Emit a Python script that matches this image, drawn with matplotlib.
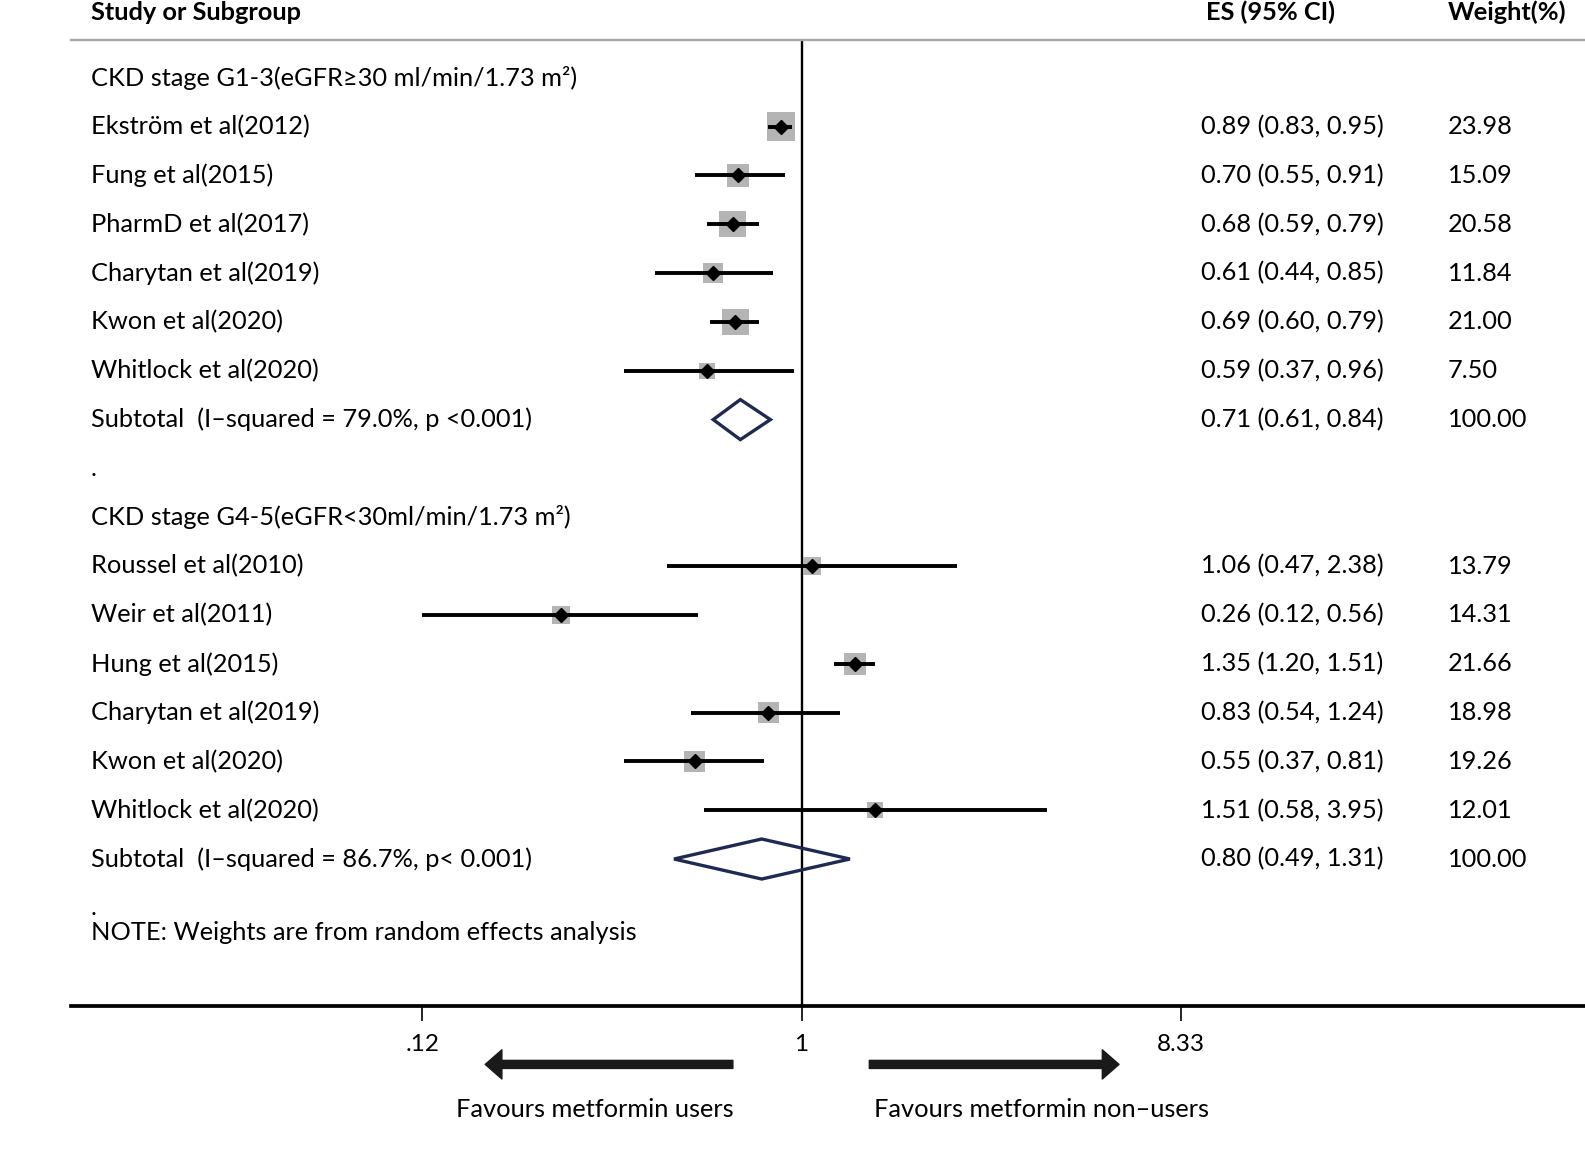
import numpy as np
import matplotlib
matplotlib.use('Agg')
import matplotlib.pyplot as plt
from matplotlib.transforms import blended_transform_factory
from matplotlib.patches import Polygon, FancyArrowPatch

plt.rcParams['font.family'] = ['Lato', 'DejaVu Sans']

# dados
grupo1 = "CKD stage G1-3(eGFR\u226530 ml/min/1.73 m\u00b2)"
estudos1 = ["Ekstr\u00f6m et al(2012)", "Fung et al(2015)", "PharmD et al(2017)",
            "Charytan et al(2019)", "Kwon et al(2020)", "Whitlock et al(2020)"]
es1 = [0.89, 0.70, 0.68, 0.61, 0.69, 0.59]
lo1 = [0.83, 0.55, 0.59, 0.44, 0.60, 0.37]
hi1 = [0.95, 0.91, 0.79, 0.85, 0.79, 0.96]
peso1 = [23.98, 15.09, 20.58, 11.84, 21.00, 7.50]
sub1_label = "Subtotal  (I\u2013squared = 79.0%, p <0.001)"
sub1 = [0.71, 0.61, 0.84]

grupo2 = "CKD stage G4-5(eGFR<30ml/min/1.73 m\u00b2)"
estudos2 = ["Roussel et al(2010)", "Weir et al(2011)", "Hung et al(2015)",
            "Charytan et al(2019)", "Kwon et al(2020)", "Whitlock et al(2020)"]
es2 = [1.06, 0.26, 1.35, 0.83, 0.55, 1.51]
lo2 = [0.47, 0.12, 1.20, 0.54, 0.37, 0.58]
hi2 = [2.38, 0.56, 1.51, 1.24, 0.81, 3.95]
peso2 = [13.79, 14.31, 21.66, 18.98, 19.26, 12.01]
sub2_label = "Subtotal  (I\u2013squared = 86.7%, p< 0.001)"
sub2 = [0.80, 0.49, 1.31]

ticks = [0.12, 1, 8.33]
tick_labels = [".12", "1", "8.33"]

W, H = 1585, 1166
S = 1585 / 1568


def px(v):
    return v * S


fig = plt.figure(figsize=(W / 100, H / 100), dpi=100)
ax = fig.add_axes([px(70) / W, 1 - px(995) / H, (px(1568) - px(70)) / W,
                   (px(995) - px(40)) / H])
ax.set_xscale('log')
px_ln = px(375) / np.log(8.33)
ax.set_xlim(np.exp((px(70) - px(793)) / px_ln), np.exp((px(1568) - px(793)) / px_ln))
row_h = px(48.3)
ax.set_ylim((px(995) - px(77)) / row_h, (px(40) - px(77)) / row_h)

tx = blended_transform_factory(fig.transFigure, ax.transData)
fs = 18.3
x_nome, x_es, x_peso = px(90) / W, px(1188) / W, px(1432) / W

# cabecalho
linha_cab = (12 - 77) / 48.3
ax.text(x_nome, linha_cab, "Study or Subgroup", transform=tx, fontsize=fs,
        fontweight='bold', va='center', clip_on=False)
ax.text(px(1193) / W, linha_cab, "ES (95% CI)", transform=tx, fontsize=fs,
        fontweight='bold', va='center', clip_on=False)
ax.text(x_peso, linha_cab, "Weight(%)", transform=tx, fontsize=fs,
        fontweight='bold', va='center', clip_on=False)


def desenha_grupo(r0, titulo, estudos, es, lo, hi, peso, sub_label, sub, k):
    ax.text(x_nome, r0, titulo, transform=tx, fontsize=fs, va='center')
    rows = np.arange(len(estudos)) + r0 + 1
    lado = k * np.sqrt(peso) * 0.72
    ax.scatter(es, rows, marker='s', s=lado ** 2, color='#b4b4b4',
               linewidths=0, zorder=2)
    ax.hlines(rows, lo, hi, color='black', lw=2.8, zorder=3)
    ax.plot(es, rows, 'D', color='black', ms=7.2, zorder=4)
    for r, n, e, l, h, p in zip(rows, estudos, es, lo, hi, peso):
        ax.text(x_nome, r, n, transform=tx, fontsize=fs, va='center')
        ax.text(x_es, r, f"{e:.2f} ({l:.2f}, {h:.2f})", transform=tx,
                fontsize=fs, va='center')
        ax.text(x_peso, r, f"{p:.2f}", transform=tx, fontsize=fs, va='center')
    rs = r0 + len(estudos) + 1
    e, l, h = sub
    losango = Polygon([(l, rs), (e, rs - 0.41), (h, rs), (e, rs + 0.41)],
                      closed=True, fill=False, edgecolor='#1e2a52', lw=2.4,
                      zorder=4)
    ax.add_patch(losango)
    ax.text(x_nome, rs, sub_label, transform=tx, fontsize=fs, va='center')
    ax.text(x_es, rs, f"{e:.2f} ({l:.2f}, {h:.2f})", transform=tx,
            fontsize=fs, va='center')
    ax.text(x_peso, rs, "100.00", transform=tx, fontsize=fs, va='center')
    ax.text(x_nome, rs + 1, ".", transform=tx, fontsize=fs, va='center')


desenha_grupo(0, grupo1, estudos1, es1, lo1, hi1, peso1, sub1_label, sub1, 5.8)
desenha_grupo(9, grupo2, estudos2, es2, lo2, hi2, peso2, sub2_label, sub2, 4.7)
ax.text(x_nome, 17.5, "NOTE: Weights are from random effects analysis",
        transform=tx, fontsize=fs, va='center')

ax.axvline(1, color='black', lw=1.7, zorder=1)

for s in ['left', 'right']:
    ax.spines[s].set_visible(False)
ax.spines['bottom'].set_linewidth(2.7)
ax.spines['top'].set_color('#a8a8a8')
ax.spines['top'].set_linewidth(1.7)
ax.set_yticks([])
ax.set_xticks(ticks)
ax.set_xticklabels(tick_labels)
ax.minorticks_off()
ax.tick_params(axis='x', length=11, width=1.2, pad=9, labelsize=17.5)

# setas
for x0, x1 in [(725, 480), (860, 1107)]:
    seta = FancyArrowPatch((px(x0) / W, 1 - px(1053) / H), (px(x1) / W, 1 - px(1053) / H),
                           transform=fig.transFigure, shrinkA=0, shrinkB=0,
                           arrowstyle='simple,head_length=12,head_width=21,tail_width=5.8',
                           mutation_scale=1, color='#1a1a1a')
    fig.add_artist(seta)
fig.text(px(588) / W, 1 - px(1098) / H, "Favours metformin users", fontsize=fs,
         ha='center', va='center')
fig.text(px(1030) / W, 1 - px(1098) / H, "Favours metformin non\u2013users", fontsize=fs,
         ha='center', va='center')

fig.savefig('out.png', dpi=100)
